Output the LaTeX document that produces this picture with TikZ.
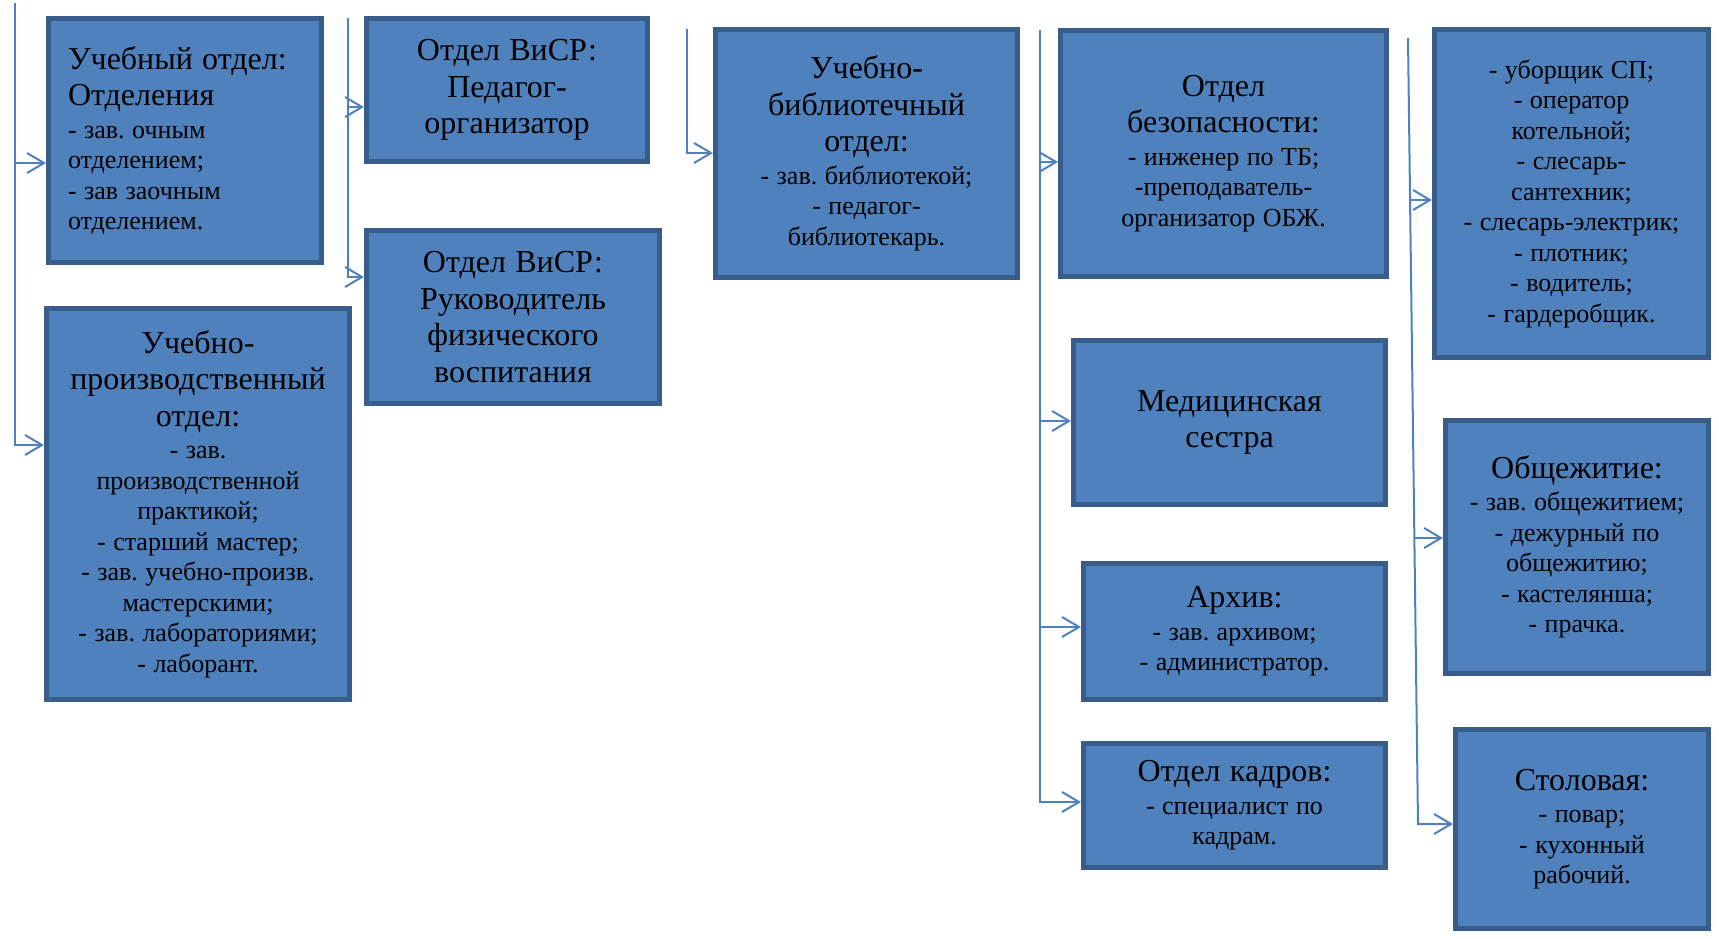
\documentclass[tikz,border=0pt]{standalone}
\usepackage{fontspec}
\setmainfont{Liberation Serif}
\usetikzlibrary{arrows.meta}
\definecolor{boxfill}{HTML}{4F81BD}
\definecolor{boxline}{HTML}{385D8A}
\definecolor{connc}{HTML}{4F81BD}
\newcommand\ttlf{\fontsize{32}{36.5}\selectfont\spaceskip=1.15\fontdimen2\font\xspaceskip=\spaceskip\relax}
\newcommand\itmf{\fontsize{26}{30.5}\selectfont\spaceskip=1.15\fontdimen2\font\xspaceskip=\spaceskip\relax}
\begin{document}
\begin{tikzpicture}[x=1pt,y=-1pt,
  orgbox/.style={draw=boxline, line width=5pt, fill=boxfill, inner sep=2pt, align=center, text=black},
  conn/.style={draw=connc, line width=2pt},
  arr/.style={conn, -{Straight Barb[length=17pt,width=20pt]}}]
\path[use as bounding box] (0,0) rectangle (1719,939);

% boxes
\node[orgbox, align=left, minimum width=273pt, minimum height=244pt, text width=234pt] (A) at (185,140.5)
  {{\ttlf Учебный отдел:\\Отделения\par}\vspace{2pt}{\itmf - зав. очным\\отделением;\\- зав заочным\\отделением.\par}};
\node[orgbox, minimum width=303pt, minimum height=391pt, text width=295pt] (B) at (198,504)
  {{\ttlf Учебно-\\производственный\\отдел:\par}\vspace{2pt}{\itmf - зав.\\производственной\\практикой;\\- старший мастер;\\- зав. учебно-произв.\\мастерскими;\\- зав. лабораториями;\\- лаборант.\par}};
\node[orgbox, minimum width=281pt, minimum height=143pt, text width=270pt] (C) at (507,90)
  {{\ttlf Отдел ВиСР:\\Педагог-\\организатор\par}};
\node[orgbox, minimum width=293pt, minimum height=173pt, text width=280pt] (D) at (513,317)
  {{\ttlf Отдел ВиСР:\\Руководитель\\физического\\воспитания\par}};
\node[orgbox, minimum width=302pt, minimum height=248pt, text width=290pt] (E) at (866.5,153.5)
  {{\ttlf Учебно-\\библиотечный\\отдел:\par}\vspace{2pt}{\itmf - зав. библиотекой;\\- педагог-\\библиотекарь.\par}};
\node[orgbox, minimum width=326pt, minimum height=246pt, text width=310pt] (F) at (1223.5,153.5)
  {{\ttlf Отдел\\безопасности:\par}\vspace{2pt}{\itmf - инженер по ТБ;\\-преподаватель-\\организатор ОБЖ.\par}};
\node[orgbox, minimum width=312pt, minimum height=164pt, text width=300pt] (G) at (1229.5,422.5)
  {{\ttlf Медицинская\\сестра\par}};
\node[orgbox, minimum width=302pt, minimum height=136pt, text width=290pt] (H) at (1234.5,631.5)
  {{\ttlf Архив:\par}\vspace{2pt}{\itmf - зав. архивом;\\- администратор.\par}};
\node[orgbox, minimum width=302pt, minimum height=124pt, text width=290pt] (I) at (1234.5,805.5)
  {{\ttlf Отдел кадров:\par}\vspace{2pt}{\itmf - специалист по\\кадрам.\par}};
\node[orgbox, minimum width=274pt, minimum height=328pt, text width=266pt] (J) at (1571.5,193.5)
  {{\itmf - уборщик СП;\\- оператор\\котельной;\\- слесарь-\\сантехник;\\- слесарь-электрик;\\- плотник;\\- водитель;\\- гардеробщик.\par}};
\node[orgbox, minimum width=263pt, minimum height=253pt, text width=255pt] (K) at (1577,547)
  {{\ttlf Общежитие:\par}\vspace{2pt}{\itmf - зав. общежитием;\\- дежурный по\\общежитию;\\- кастелянша;\\- прачка.\par}};
\node[orgbox, minimum width=253pt, minimum height=199pt, text width=245pt] (L) at (1582,829)
  {{\ttlf Столовая:\par}\vspace{2pt}{\itmf - повар;\\- кухонный\\рабочий.\par}};

% trunk 1
\coordinate (t1top) at (15,3);
\coordinate (t1a) at (15,163);
\coordinate (t1b) at (15,445);
\draw[arr] (t1top) -- (t1b) -- (t1b -| B.west);
\draw[arr] (t1a) -- (t1a -| A.west);
% trunk 2
\coordinate (t2top) at (348,18);
\coordinate (t2c) at (348,107);
\coordinate (t2d) at (348,277);
\draw[arr] (t2top) -- (t2d) -- (t2d -| D.west);
\draw[arr] (t2c) -- (t2c -| C.west);
% trunk 3
\coordinate (t3top) at (687,29);
\coordinate (t3e) at (687,153);
\draw[arr] (t3top) -- (t3e) -- (t3e -| E.west);
% trunk 4
\coordinate (t4top) at (1040,30);
\coordinate (t4f) at (1040,162);
\coordinate (t4g) at (1040,421);
\coordinate (t4h) at (1040,627);
\coordinate (t4i) at (1040,802);
\draw[arr] (t4top) -- (t4i) -- (t4i -| I.west);
\draw[arr] (t4f) -- (t4f -| F.west);
\draw[arr] (t4g) -- (t4g -| G.west);
\draw[arr] (t4h) -- (t4h -| H.west);
% trunk 5
\coordinate (t5top) at (1408,38);
\coordinate (t5j) at (1410,200);
\coordinate (t5k) at (1414.4,538);
\coordinate (t5l) at (1418,824);
\draw[arr] (t5top) -- (t5l) -- (t5l -| L.west);
\draw[arr] (t5j) -- (t5j -| J.west);
\draw[arr] (t5k) -- (t5k -| K.west);
\end{tikzpicture}
\end{document}
